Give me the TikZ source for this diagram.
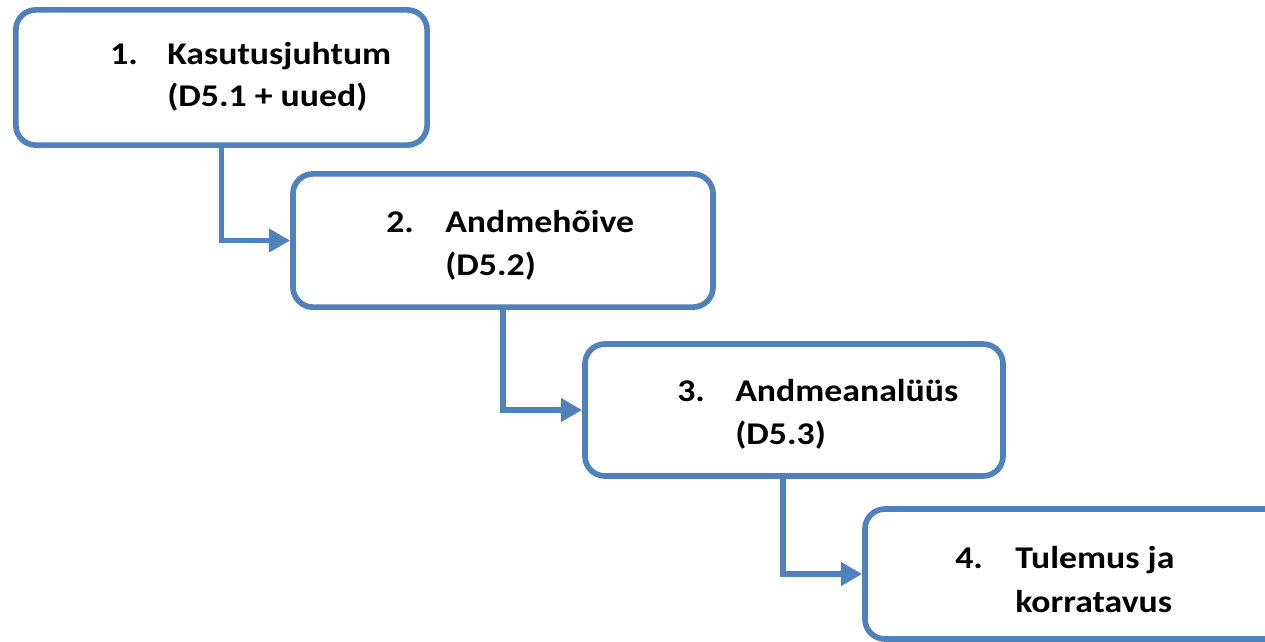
\documentclass[tikz,border=0pt]{standalone}
\usepackage{fontspec}
\setmainfont{Carlito}[FakeStretch=1.13]
\usetikzlibrary{arrows.meta}
\definecolor{stageblue}{RGB}{79,129,189}
\tikzset{
  stagebox/.style={draw=stageblue, line width=4pt, rounded corners=0.5cm, fill=white,
    minimum width=10.45cm, minimum height=3.3cm, inner sep=0pt},
  stagetext/.style={anchor=base west, inner sep=0pt, font=\fontsize{22.5}{26}\selectfont\bfseries},
  stagelink/.style={draw=stageblue, line width=4pt, -{Triangle[length=15pt,width=16pt]}}
}
\begin{document}
\begin{tikzpicture}[x=0.025cm,y=-0.025cm]
\clip (0,0) rectangle (1265,641);
\fill[white] (0,0) rectangle (1265,641);
% stages
\node[stagebox, minimum width=10.28cm, minimum height=3.38cm] (s1) at (221.5,77.5) {};
\node[stagebox, minimum width=10.5cm, minimum height=3.33cm] (s2) at (503,240.5) {};
\node[stagebox] (s3) at (794,410) {};
\node[stagebox, minimum width=10.5cm, minimum height=3.25cm] (s4) at (1075,574) {};
% links
\draw[stagelink] (s1.south) |- (s2.west);
\draw[stagelink] (s2.south) |- (s3.west);
\draw[stagelink] ([xshift=-0.275cm]s3.south) |- (s4.west);
% labels
\node[stagetext] (n1) at (110,64) {1.};
\node[stagetext] (t1a) at (167,64) {Kasutusjuhtum};
\node[stagetext] (t1b) at (167,106) {(D5.1 + uued)};
\node[stagetext] (n2) at (386,232) {2.};
\node[stagetext] (t2a) at (445,232) {Andmehõive};
\node[stagetext] (t2b) at (445,275) {(D5.2)};
\node[stagetext] (n3) at (677,401) {3.};
\node[stagetext] (t3a) at (735,401) {Andmeanalüüs};
\node[stagetext] (t3b) at (735,444) {(D5.3)};
\node[stagetext] (n4) at (955,568) {4.};
\node[stagetext] (t4a) at (1015,568) {Tulemus ja};
\node[stagetext] (t4b) at (1015,612) {korratavus};
\end{tikzpicture}
\end{document}
